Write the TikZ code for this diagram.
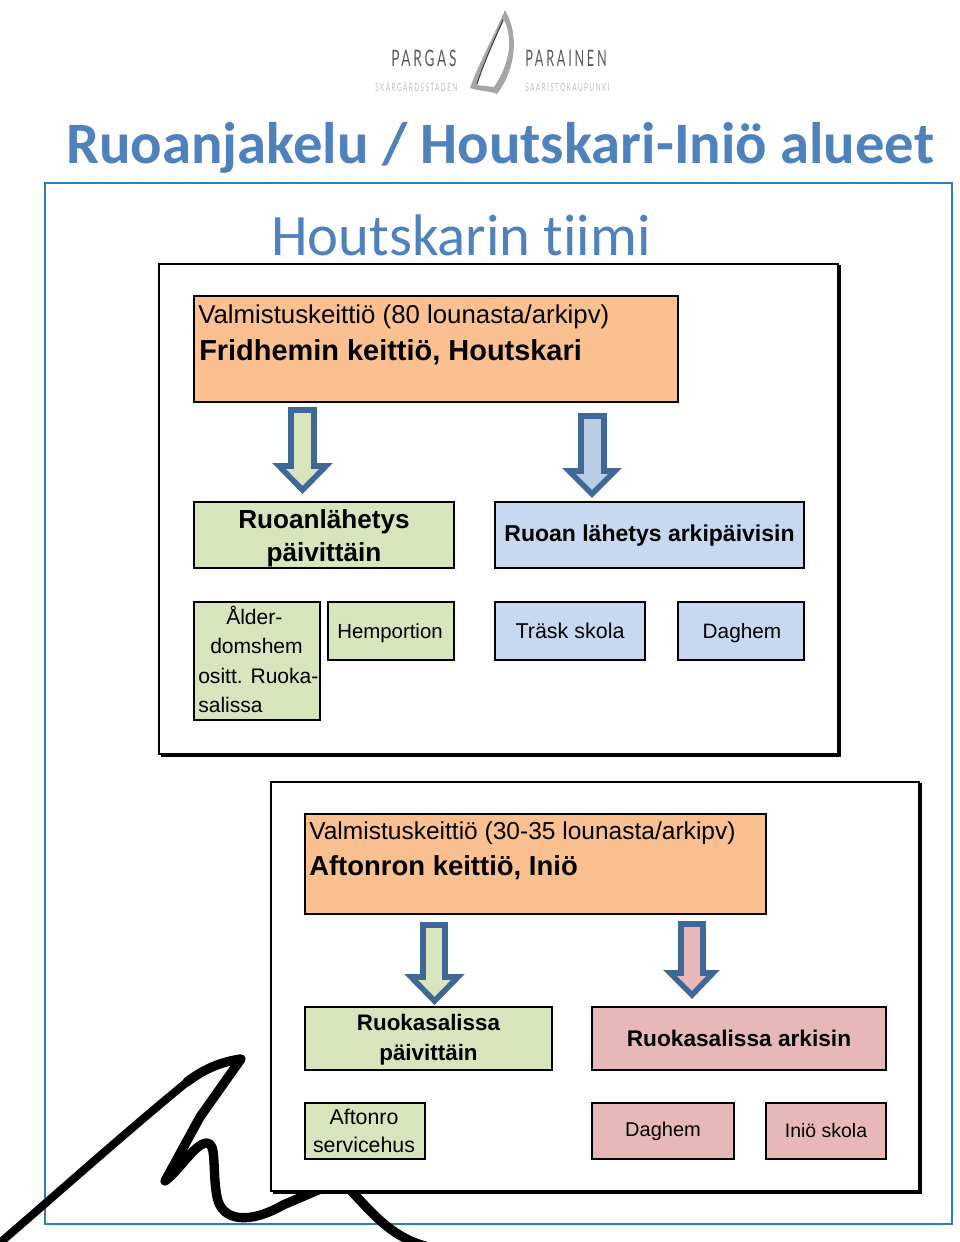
\documentclass[tikz,border=0pt]{standalone}
\usepackage{fontspec}
\setmainfont{Liberation Sans}
\newfontfamily\carlito[Ligatures=NoCommon]{Carlito}
\newfontfamily\logofont[LetterSpace=12,FakeStretch=0.6]{Lato}
\newfontfamily\logofontb[LetterSpace=12,FakeStretch=0.56]{Lato}
\newfontfamily\logosmall[LetterSpace=12,FakeStretch=0.575]{Lato}
\definecolor{frameblue}{HTML}{2F7CBE}
\definecolor{titleblue}{HTML}{4F81BD}
\definecolor{orangebox}{HTML}{FAC090}
\definecolor{greenbox}{HTML}{D7E4BC}
\definecolor{bluebox}{HTML}{C6D9F1}
\definecolor{bluearrow}{HTML}{B9CDE5}
\definecolor{pinkbox}{HTML}{E6B9B8}
\definecolor{arrowblue}{HTML}{3F6899}
\newcommand{\pxbox}[6]{%
  \pgfmathsetmacro{\pw}{(#4-#2)*0.75}\pgfmathsetmacro{\ph}{(#5-#3)*0.75}%
  \node[#6,minimum width=\pw pt,minimum height=\ph pt] (#1) at ({(#2+#4)/2},{(#3+#5)/2}) {};}
\begin{document}
\begin{tikzpicture}[x=0.75pt,y=-0.75pt,
  colorbox/.style={draw=black,line width=1.6pt,inner sep=0pt,outer sep=0pt},
  panel/.style={draw=black,line width=2pt,fill=white,inner sep=0pt,outer sep=0pt},
  blockarrow/.style={draw=arrowblue,line width=4.2pt,line join=miter,miter limit=10},
  lab/.style={inner sep=0pt,align=center},
  sig/.style={draw=black,line cap=round,line join=round}]
\useasboundingbox (0,0) rectangle (960,1242);
% logo
\node[text=black!65,anchor=base west,inner sep=0pt] (logoa) at (391,66) {\logofont\fontsize{17}{17}\selectfont PARGAS};
\node[text=black!65,anchor=base west,inner sep=0pt] (logob) at (525,66) {\logofontb\fontsize{17}{17}\selectfont PARAINEN};
\node[text=black!25,anchor=base west,inner sep=0pt] (logoc) at (375,91) {\logosmall\fontsize{8.5}{8.5}\selectfont SKÄRGÅRDSSTADEN};
\node[text=black!25,anchor=base west,inner sep=0pt] (logod) at (525,91) {\logosmall\fontsize{8.5}{8.5}\selectfont SAARISTOKAUPUNKI};
\fill[black!35,even odd rule] (505,10) .. controls (492,40) and (478,65) .. (470,88) .. controls (482,92) and (492,91) .. (497,94) .. controls (512,75) and (522,40) .. (505,10)
  (504,20) .. controls (492,45) and (483,65) .. (477,85) -- (494,87) .. controls (507,68) and (515,42) .. (504,20);
\draw[black!80,line width=0.7pt] (503,20) .. controls (492,45) and (483,65) .. (477,84);
% titles
\node[anchor=base west,inner sep=0pt,text=titleblue] (title) at (66,163) {\carlito\bfseries\fontsize{44}{50}\selectfont Ruoanjakelu / Houtskari-Iniö alueet};
\node[anchor=base west,inner sep=0pt,text=titleblue] (sub) at (271,255) {\carlito\fontsize{44}{50}\selectfont Houtskarin tiimi};
% outer frame
\pxbox{frame}{45}{183}{952}{1224}{draw=frameblue,line width=1pt,inner sep=0pt}
% signature
\draw[sig,line width=6pt] (-5,1247) .. controls (50,1200) and (120,1137) .. (187,1082);
\draw[sig,line width=7pt] (187,1082) .. controls (205,1068) and (222,1062) .. (240,1059);
\draw[sig,line width=7pt] (241,1059) -- (200,1117) -- (165,1181) .. controls (180,1170) and (195,1143) .. (207,1143) .. controls (217,1143) and (212,1170) .. (217,1197) .. controls (222,1222) and (250,1224) .. (283,1205) -- (330,1185);
\draw[sig,line width=7pt] (345,1185) .. controls (365,1203) and (385,1235) .. (425,1246);
% panels
\pxbox{panela}{159}{264}{838}{754}{panel}
\draw[black,line width=3pt] (panela.north east) ++(1,1) -- ++(0,490) -- ++(-678,0);
\pxbox{panelb}{271}{782}{919}{1191}{panel}
\draw[black,line width=3pt] (panelb.north east) ++(1,1) -- ++(0,409) -- ++(-647,0);
% first panel
\pxbox{ora}{194}{296}{678}{402}{colorbox,fill=orangebox}
\node[anchor=base west,inner sep=0pt] (orat) at (198,323) {\fontsize{19.35}{24}\selectfont Valmistuskeittiö (80 lounasta/arkipv)};
\node[anchor=base west,inner sep=0pt] (orab) at (199,360) {\fontsize{21.7}{24}\selectfont\bfseries Fridhemin keittiö, Houtskari};
\draw[blockarrow,fill=greenbox] (291,410) -- (314,410) -- (314,466) -- (326,466) -- (302.5,490) -- (279,466) -- (291,466) -- cycle;
\draw[blockarrow,fill=bluearrow] (581,416) -- (604,416) -- (604,471) -- (615,471) -- (592,494) -- (569,471) -- (581,471) -- cycle;
\pxbox{grna}{194}{502}{454}{568}{colorbox,fill=greenbox}
\node[lab,font=\fontsize{19.6}{24.75}\selectfont\bfseries] (grnat) at ([yshift=-2.5pt]grna.center) {Ruoanlähetys\\päivittäin};
\pxbox{blua}{495}{502}{804}{568}{colorbox,fill=bluebox}
\node[lab,font=\fontsize{17.25}{22}\selectfont\bfseries] (bluat) at ([yshift=-0.75pt]blua.center) {Ruoan lähetys arkipäivisin};
\pxbox{ald}{194}{602}{320}{720}{colorbox,fill=greenbox}
\node[anchor=north west,inner sep=0pt,align=left,font=\fontsize{15.8}{22}\selectfont] (aldt) at (198,606) {\hspace*{21pt}Ålder-\\\hspace*{9pt}domshem\\ositt. Ruoka-\\salissa};
\pxbox{hem}{328}{602}{454}{660}{colorbox,fill=greenbox}
\node[lab,font=\fontsize{15.3}{20}\selectfont] (hemt) at ([xshift=-0.75pt,yshift=-1.5pt]hem.center) {Hemportion};
\pxbox{tra}{495}{602}{645}{660}{colorbox,fill=bluebox}
\node[lab,font=\fontsize{16.1}{20}\selectfont] (trat) at (tra.center) {Träsk skola};
\pxbox{dagb}{678}{602}{804}{660}{colorbox,fill=bluebox}
\node[lab,font=\fontsize{15.6}{20}\selectfont] (dagbt) at ([xshift=0.75pt,yshift=-1.5pt]dagb.center) {Daghem};
% second panel
\pxbox{orb}{305}{814}{766}{914}{colorbox,fill=orangebox}
\node[anchor=base west,inner sep=0pt] (orbt) at (309,839) {\fontsize{18.4}{24}\selectfont Valmistuskeittiö (30-35 lounasta/arkipv)};
\node[anchor=base west,inner sep=0pt] (orbb) at (309,875) {\fontsize{20.6}{24}\selectfont\bfseries Aftonron keittiö, Iniö};
\draw[blockarrow,fill=greenbox] (423,925) -- (445,925) -- (445,977) -- (458,977) -- (434.5,1001) -- (411,977) -- (423,977) -- cycle;
\draw[blockarrow,fill=pinkbox] (681,924) -- (703,924) -- (703,973) -- (713,973) -- (692,995) -- (670,973) -- (681,973) -- cycle;
\pxbox{grnb}{305}{1007}{552}{1070}{colorbox,fill=greenbox}
\node[lab,font=\fontsize{16.8}{22.5}\selectfont\bfseries] (grnbt) at ([yshift=-0.75pt]grnb.center) {Ruokasalissa\\päivittäin};
\pxbox{pnk}{592}{1007}{886}{1070}{colorbox,fill=pinkbox}
\node[lab,font=\fontsize{17}{22}\selectfont\bfseries] (pnkt) at (pnk.center) {Ruokasalissa arkisin};
\pxbox{aft}{305}{1103}{425}{1159}{colorbox,fill=greenbox}
\node[lab,font=\fontsize{16}{21}\selectfont] (aftt) at ([xshift=-0.75pt]aft.center) {Aftonro\\servicehus};
\pxbox{dagc}{592}{1103}{734}{1159}{colorbox,fill=pinkbox}
\node[lab,font=\fontsize{15}{20}\selectfont] (dagct) at (dagc.center) {Daghem};
\pxbox{ini}{766}{1103}{886}{1159}{colorbox,fill=pinkbox}
\node[lab,font=\fontsize{14.6}{20}\selectfont] (init) at (ini.center) {Iniö skola};
\end{tikzpicture}
\end{document}
